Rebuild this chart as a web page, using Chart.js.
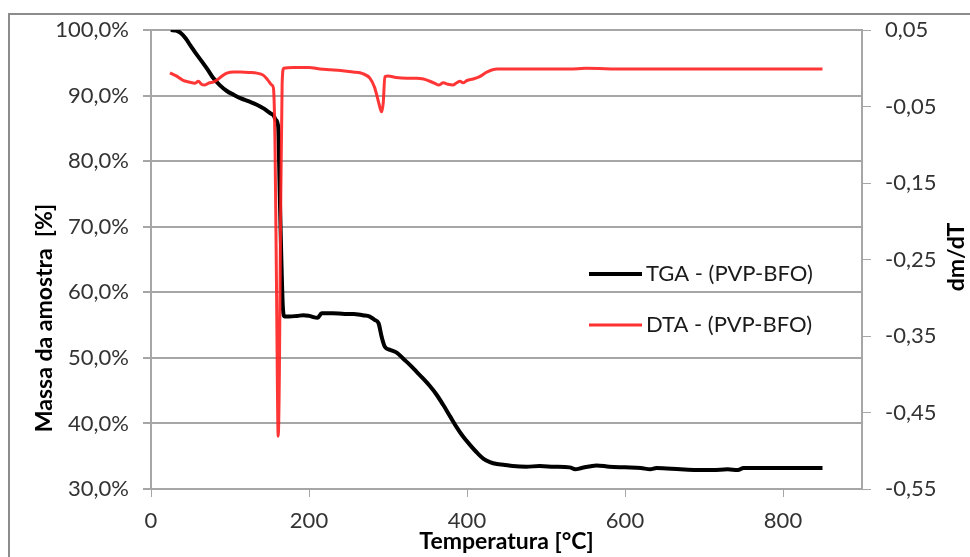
<!DOCTYPE html>
<html>
<head>
<meta charset="utf-8">
<script src="https://cdn.jsdelivr.net/npm/chart.js@4/dist/chart.umd.min.js"></script>
<style>
  html, body { margin: 0; padding: 0; background: #fff; }
  #wrap { width: 970px; height: 557px; }
</style>
</head>
<body>
<div id="wrap"><canvas id="chart" width="970" height="557"></canvas></div>
<script>
// TGA curve: temperature [°C] and mass [%]
const tgaTemp = [25, 32, 38, 44, 50, 57, 65, 72, 78, 87, 96, 105, 113, 124, 134, 143, 151, 155, 158, 161, 163, 165, 167, 169,
	175, 185, 193, 200, 211, 216, 230, 245, 256, 268, 277, 283, 288, 292, 296, 303, 311, 320, 328, 336, 344, 353, 362, 370,
	379, 387, 395, 404, 413, 421, 429, 438, 446, 458, 475, 492, 510, 530, 537, 545, 564, 580, 600, 620, 632, 640, 670, 690,
	711, 730, 743, 750, 770, 790, 820, 850];
const tgaMass = [100.0, 99.9, 99.5, 98.7, 97.6, 96.4, 95.1, 93.9, 92.8, 91.6, 90.7, 90.1, 89.6, 89.1, 88.6, 88.0, 87.3, 87.0, 86.3, 85.2, 75.0, 65.0, 57.5, 56.3,
	56.3, 56.4, 56.5, 56.4, 56.1, 56.8, 56.8, 56.7, 56.7, 56.5, 56.3, 55.8, 55.3, 53.2, 51.7, 51.2, 50.8, 49.8, 48.9, 47.9, 46.9, 45.7, 44.3, 42.8,
	41.0, 39.4, 38.0, 36.7, 35.5, 34.6, 34.1, 33.8, 33.7, 33.5, 33.4, 33.5, 33.4, 33.3, 33.0, 33.2, 33.6, 33.4, 33.3, 33.2, 33.0, 33.2, 33.0, 32.9,
	32.9, 33.0, 32.9, 33.2, 33.2, 33.2, 33.2, 33.2];

// DTA curve: temperature [°C] and dm/dT
const dtaTemp = [24, 32, 40, 48, 56, 60, 64, 68, 74, 79, 84, 90, 96, 105, 113, 124, 134, 142, 148, 153, 155, 157, 159, 161, 162.5, 164, 166, 168,
	180, 200, 214, 227, 240, 256, 268, 277, 283, 287, 290, 292, 294, 296, 300, 310, 324, 336, 345, 353, 360, 364, 370, 376, 382, 387,
	391, 395, 400, 408, 416, 425, 438, 460, 500, 530, 550, 600, 640, 700, 740, 760, 800, 850];
const dtaValue = [-0.006, -0.010, -0.0155, -0.018, -0.0195, -0.017, -0.021, -0.022, -0.019, -0.018, -0.015, -0.010, -0.0064, -0.005, -0.005, -0.0055, -0.0064, -0.009, -0.0155, -0.022, -0.026, -0.10, -0.30, -0.481, -0.40, -0.20, -0.02, 0.0,
	0.001, 0.001, -0.001, -0.002, -0.003, -0.005, -0.007, -0.013, -0.025, -0.040, -0.052, -0.057, -0.045, -0.011, -0.010, -0.012, -0.013, -0.013, -0.014, -0.017, -0.020, -0.022, -0.019, -0.021, -0.022, -0.019,
	-0.017, -0.019, -0.016, -0.014, -0.011, -0.005, -0.001, -0.001, -0.001, -0.001, 0.000, -0.001, -0.001, -0.001, -0.001, -0.001, -0.001, -0.001];

// axis ticks
const xTicks = [0, 200, 400, 600, 800];
const leftTicks = [30, 40, 50, 60, 70, 80, 90, 100];
const rightTicks = [-0.55, -0.45, -0.35, -0.25, -0.15, -0.05, 0.05];

const seriesNames = ["TGA - (PVP-BFO)", "DTA - (PVP-BFO)"];

const FONT = "Lato, 'Open Sans', sans-serif";
const GRID = "#a6a6a6";

function verticalText(ctx, text, x, y) {
	ctx.save();
	ctx.translate(x, y);
	ctx.rotate(-Math.PI / 2);
	ctx.font = "bold 23px " + FONT;
	ctx.fillStyle = '#000';
	ctx.textAlign = 'center';
	ctx.textBaseline = 'middle';
	ctx.fillText(text, 0, 0);
	ctx.restore();
}

const frame = {
	id: 'frame',
	beforeDraw(chart) {
		const ctx = chart.ctx;
		ctx.save();
		ctx.fillStyle = '#fff';
		ctx.fillRect(0, 0, chart.width, chart.height);
		ctx.strokeStyle = '#8c8c8c';
		ctx.lineWidth = 2;
		ctx.strokeRect(9, 14, chart.width + 10, chart.height + 10);
		ctx.restore();
	},
	afterDraw(chart) {
		const ctx = chart.ctx;
		// axis titles, both read bottom to top
		verticalText(ctx, "Massa da amostra  [%]", 45, 318);
		verticalText(ctx, "dm/dT", 957, 257);

		// legend inside the plot
		ctx.save();
		ctx.font = "22px " + FONT;
		ctx.textBaseline = 'middle';
		ctx.fillStyle = '#1a1a1a';
		const rows = [
			{ y: 274, color: '#000', width: 4 },
			{ y: 325, color: '#ff3030', width: 3 }
		];
		rows.forEach((r, i) => {
			ctx.strokeStyle = r.color;
			ctx.lineWidth = r.width;
			ctx.beginPath();
			ctx.moveTo(589, r.y);
			ctx.lineTo(642, r.y);
			ctx.stroke();
			ctx.fillText(seriesNames[i], 646, r.y);
		});
		ctx.restore();
	}
};

new Chart(document.getElementById('chart'), {
	type: 'line',
	data: {
		datasets: [
			{
				label: seriesNames[0],
				data: tgaTemp.map((t, i) => ({ x: t, y: tgaMass[i] })),
				borderColor: '#000',
				borderWidth: 4,
				pointRadius: 0,
				cubicInterpolationMode: 'monotone',
				yAxisID: 'y',
				order: 1
			},
			{
				label: seriesNames[1],
				data: dtaTemp.map((t, i) => ({ x: t, y: dtaValue[i] })),
				borderColor: 'rgba(255, 32, 32, 0.9)',
				borderWidth: 3,
				pointRadius: 0,
				cubicInterpolationMode: 'monotone',
				yAxisID: 'y2',
				order: 0
			}
		]
	},
	options: {
		responsive: false,
		animation: false,
		layout: { padding: { top: 30, left: 0, right: 0, bottom: 0 } },
		plugins: {
			legend: { display: false },
			tooltip: { enabled: false }
		},
		scales: {
			x: {
				type: 'linear',
				min: 0,
				max: 900,
				afterBuildTicks: (scale) => { scale.ticks = xTicks.map((v) => ({ value: v })); },
				afterFit: (scale) => { scale.height = 68; },
				ticks: {
					font: { family: FONT, size: 22 },
					color: '#333',
					padding: 11,
					maxRotation: 0
				},
				grid: { drawOnChartArea: false, color: GRID, tickLength: 8 },
				border: { color: GRID, width: 2 },
				title: {
					display: true,
					text: 'Temperatura [°C]',
					font: { family: FONT, size: 23, weight: 'bold' },
					color: '#000',
					padding: { top: 0, bottom: 2 }
				}
			},
			y: {
				position: 'left',
				min: 30,
				max: 100,
				afterBuildTicks: (scale) => { scale.ticks = leftTicks.map((v) => ({ value: v })); },
				afterFit: (scale) => { scale.width = 151; },
				ticks: {
					font: { family: FONT, size: 22 },
					color: '#333',
					padding: 14,
					callback: (v) => v.toFixed(1).replace('.', ',') + '%'
				},
				grid: { color: GRID, lineWidth: 2, tickLength: 8 },
				border: { color: GRID, width: 2 }
			},
			y2: {
				position: 'right',
				min: -0.55,
				max: 0.05,
				afterBuildTicks: (scale) => { scale.ticks = rightTicks.map((v) => ({ value: v })); },
				afterFit: (scale) => { scale.width = 108; },
				ticks: {
					font: { family: FONT, size: 22 },
					color: '#333',
					padding: 14,
					callback: (v) => v.toFixed(2).replace('.', ',')
				},
				grid: { drawOnChartArea: false, color: GRID, tickLength: 9 },
				border: { color: GRID, width: 2 }
			}
		}
	},
	plugins: [frame]
});
</script>
</body>
</html>
